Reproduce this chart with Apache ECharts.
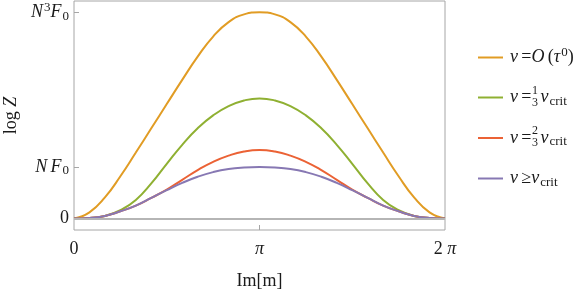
<!DOCTYPE html>
<html>
<head>
<meta charset="utf-8">
<script src="https://cdn.jsdelivr.net/npm/echarts@6/dist/echarts.min.js"></script>
<style>
  html, body { margin: 0; padding: 0; background: #fff; }
  #main { width: 581px; height: 294px; }
</style>
</head>
<body>
<div id="main"></div>
<script>
// x positions in units of pi (0 .. 2)
var steps = [0, 1/12, 2/12, 3/12, 4/12, 5/12, 6/12, 7/12, 8/12, 9/12, 10/12, 11/12, 1,
             13/12, 14/12, 15/12, 16/12, 17/12, 18/12, 19/12, 20/12, 21/12, 22/12, 23/12, 2];
// log Z, in units where N F0 = 1 and N^3 F0 = 4
var orange = [0, 0.12, 0.41, 0.82, 1.28, 1.75, 2.22, 2.69, 3.14, 3.53, 3.81, 3.96, 4.00,
              3.96, 3.81, 3.53, 3.14, 2.69, 2.22, 1.75, 1.28, 0.82, 0.41, 0.12, 0];
var green  = [0, 0.01, 0.05, 0.16, 0.36, 0.68, 1.06, 1.43, 1.75, 2.00, 2.18, 2.29, 2.33,
              2.29, 2.18, 2.00, 1.75, 1.43, 1.06, 0.68, 0.36, 0.16, 0.05, 0.01, 0];
var red    = [0, 0.01, 0.05, 0.14, 0.25, 0.40, 0.56, 0.75, 0.94, 1.10, 1.22, 1.30, 1.33,
              1.30, 1.22, 1.10, 0.94, 0.75, 0.56, 0.40, 0.25, 0.14, 0.05, 0.01, 0];
var purple = [0, 0.01, 0.05, 0.14, 0.25, 0.40, 0.55, 0.69, 0.81, 0.90, 0.96, 0.99, 1.00,
              0.99, 0.96, 0.90, 0.81, 0.69, 0.55, 0.40, 0.25, 0.14, 0.05, 0.01, 0];

var names = ['O', 'third', 'twothirds', 'crit'];
var colors = ['#E19C24', '#8FB032', '#EB6235', '#8778B3'];
var yTicks = [0, 1, 4];
var xTicks = [0, Math.PI, 2 * Math.PI];

var serif = 'Liberation Serif';
var ink = '#1a1a1a';
var rich = {
    i: { fontFamily: serif, fontStyle: 'italic', fontSize: 18, color: ink },
    t: { fontFamily: serif, fontSize: 18, color: ink },
    sup: { fontFamily: serif, fontSize: 13, color: ink, padding: [0, 0, 10, 1] },
    sub: { fontFamily: serif, fontSize: 13, color: ink, padding: [8, 0, 0, 1] },
    fr: { fontFamily: serif, fontSize: 12, width: 9 }
};

var legendText = {
    O: '{i|v} {t|=}{i|O} {t|(}{i|τ}{sup|0}{t|)}',
    third: '{i|v} {t|=}{fr|\u00a0}{i|v}{sub|crit}',
    twothirds: '{i|v} {t|=}{fr|\u00a0}{i|v}{sub|crit}',
    crit: '{i|v} {t|≥}{i|v}{sub|crit}'
};

function pts(vals) {
    return steps.map(function (s, k) { return [s * Math.PI, vals[k]]; });
}

var allVals = [orange, green, red, purple];
var series = allVals.map(function (v, k) {
    var s = {
        name: names[k],
        type: 'line',
        data: pts(v),
        smooth: 0.5,
        symbol: 'none',
        lineStyle: { color: colors[k], width: 2 },
        itemStyle: { color: colors[k] }
    };
    if (k === 0) {
        s.markLine = {
            silent: true,
            symbol: 'none',
            label: { show: false },
            lineStyle: { color: '#b5b5b5', width: 2, type: 'solid' },
            data: [{ yAxis: 0 }]
        };
    }
    return s;
});

var fracStyle = { fontFamily: serif, fontSize: 12, fill: ink };

var myChart = echarts.init(document.getElementById('main'));
option = {
    animation: false,
    grid: {
        show: true, left: 74, top: 1, width: 371, height: 229,
        outerBoundsMode: 'none', containLabel: false,
        borderColor: '#a6a6a6', borderWidth: 1, backgroundColor: 'transparent'
    },
    xAxis: {
        type: 'value', min: 0, max: 2 * Math.PI,
        name: 'Im[m]', nameLocation: 'middle', nameGap: 42,
        nameTextStyle: { fontFamily: serif, fontSize: 18, color: ink },
        axisLine: { show: false, onZero: false },
        splitLine: { show: false },
        axisTick: { inside: true, length: 5, customValues: [Math.PI], lineStyle: { color: '#a6a6a6' } },
        axisLabel: {
            customValues: xTicks, margin: 10,
            formatter: function (v) {
                if (v === 0) return '{t|0}';
                if (v < 4) return '{i|π}';
                return '{t|2 }{i|π}';
            },
            rich: rich
        }
    },
    yAxis: {
        type: 'value', min: -0.223, max: 4.22,
        name: '{t|log }{i|Z}', nameLocation: 'middle', nameGap: 53, nameRotate: 90,
        nameTextStyle: { rich: rich },
        axisLine: { show: false, onZero: false },
        splitLine: { show: false },
        axisTick: { inside: true, length: 5, customValues: yTicks, lineStyle: { color: '#a6a6a6' } },
        axisLabel: {
            customValues: yTicks, margin: 5,
            formatter: function (v) {
                if (v === 0) return '{t|0}';
                if (v === 1) return '{i|N} {i|F}{sub|0}';
                return '{i|N}{sup|3}{i|F}{sub|0}';
            },
            rich: rich
        }
    },
    legend: {
        orient: 'vertical', left: 473, top: 41,
        icon: 'rect', itemWidth: 25, itemHeight: 2, itemGap: 20,
        data: names,
        formatter: function (n) { return legendText[n]; },
        textStyle: { padding: [0, 0, 0, 2], lineHeight: 20, rich: rich }
    },
    graphic: [
        { type: 'text', x: 532, y: 85, style: Object.assign({ text: '1' }, fracStyle) },
        { type: 'text', x: 532, y: 97, style: Object.assign({ text: '3' }, fracStyle) },
        { type: 'text', x: 532, y: 125, style: Object.assign({ text: '2' }, fracStyle) },
        { type: 'text', x: 532, y: 137, style: Object.assign({ text: '3' }, fracStyle) }
    ],
    series: series
};
myChart.setOption(option);
</script>
</body>
</html>
